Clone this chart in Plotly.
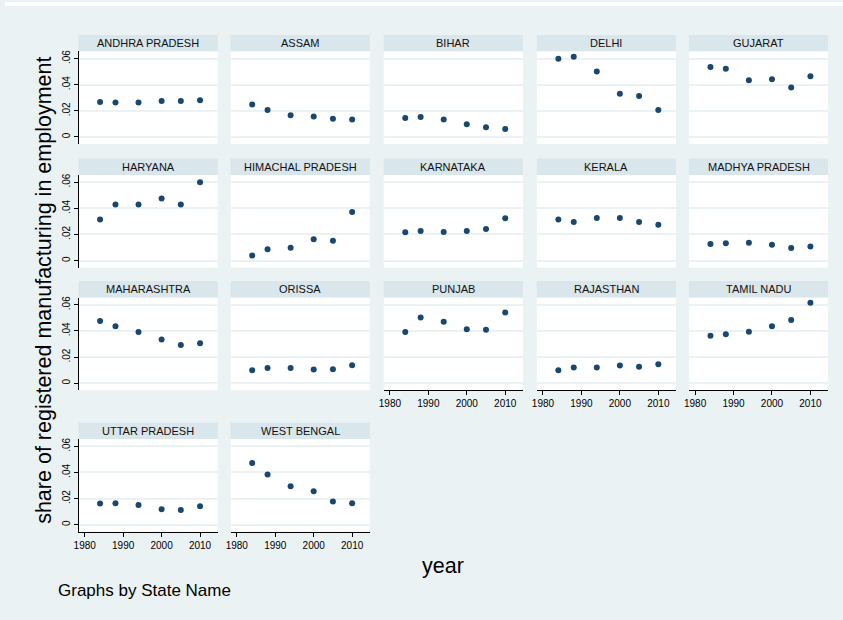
"""Small multiples: share of registered manufacturing in employment by state."""

import plotly.graph_objects as go

W, H = 843, 620

years = [1984, 1988, 1994, 2000, 2005, 2010]

states = [
    'ANDHRA PRADESH', 'ASSAM', 'BIHAR', 'DELHI', 'GUJARAT',
    'HARYANA', 'HIMACHAL PRADESH', 'KARNATAKA', 'KERALA', 'MADHYA PRADESH',
    'MAHARASHTRA', 'ORISSA', 'PUNJAB', 'RAJASTHAN', 'TAMIL NADU',
    'UTTAR PRADESH', 'WEST BENGAL',
]

andhra_pradesh = [0.0268, 0.0263, 0.0263, 0.0276, 0.0276, 0.0281]
assam = [0.0248, 0.0207, 0.0166, 0.0156, 0.0140, 0.0133]
bihar = [0.0146, 0.0153, 0.0133, 0.0097, 0.0074, 0.0061]
delhi = [0.0598, 0.0613, 0.0501, 0.0330, 0.0314, 0.0207]
gujarat = [0.0536, 0.0521, 0.0434, 0.0442, 0.0378, 0.0465]
haryana = [0.0315, 0.0429, 0.0429, 0.0475, 0.0429, 0.0600]
himachal_pradesh = [0.0038, 0.0086, 0.0099, 0.0163, 0.0152, 0.0371]
karnataka = [0.0216, 0.0226, 0.0219, 0.0226, 0.0241, 0.0323]
kerala = [0.0315, 0.0295, 0.0325, 0.0325, 0.0295, 0.0274]
madhya_pradesh = [0.0127, 0.0132, 0.0137, 0.0122, 0.0097, 0.0107]
maharashtra = [0.0475, 0.0435, 0.0391, 0.0335, 0.0292, 0.0305]
orissa = [0.0099, 0.0117, 0.0117, 0.0104, 0.0107, 0.0137]
punjab = [0.0391, 0.0503, 0.0470, 0.0412, 0.0409, 0.0541]
rajasthan = [0.0099, 0.0119, 0.0119, 0.0135, 0.0125, 0.0145]
tamil_nadu = [0.0363, 0.0374, 0.0394, 0.0435, 0.0483, 0.0615]
uttar_pradesh = [0.0163, 0.0165, 0.0150, 0.0119, 0.0112, 0.0142]
west_bengal = [0.0473, 0.0384, 0.0295, 0.0257, 0.0178, 0.0165]

shares = [
    andhra_pradesh, assam, bihar, delhi, gujarat,
    haryana, himachal_pradesh, karnataka, kerala, madhya_pradesh,
    maharashtra, orissa, punjab, rajasthan, tamil_nadu,
    uttar_pradesh, west_bengal,
]

x_ticks = [1980, 1990, 2000, 2010]
y_ticks = [0, 0.02, 0.04, 0.06]
y_tick_text = ['0', '.02', '.04', '.06']

BG = '#EAF2F3'
STRIP = '#D9E6EB'
NAVY = '#1A476F'
FONT = 'Liberation Sans, Arial, sans-serif'

# panel geometry in pixels
col_left = [74, 227, 381, 535, 688]
panel_w = 140
row_strip_top = [33, 157, 280, 422]
strip_h = 16.5
plot_h = 93

fig = go.Figure()
layout = {}
shapes = []
annotations = []

n = len(states)
for i, (state, vals) in enumerate(zip(states, shares)):
  r, c = divmod(i, 5)
  k = i + 1
  xa = 'x' if k == 1 else f'x{k}'
  ya = 'y' if k == 1 else f'y{k}'
  fig.add_trace(go.Scatter(
      x=years, y=vals, mode='markers', xaxis=xa, yaxis=ya,
      marker=dict(color=NAVY, size=6), showlegend=False))

  x0 = col_left[c]
  x1 = x0 + panel_w
  top = row_strip_top[r] + strip_h
  bottom = top + plot_h
  # bottom panel of each column carries the x axis
  is_bottom = (i + 5 >= n)
  is_left = (c == 0)

  layout['xaxis' if k == 1 else f'xaxis{k}'] = dict(
      domain=[x0 / W, x1 / W], anchor=ya, range=[1978.4, 2014.6],
      showgrid=False, zeroline=False,
      showline=is_bottom, linecolor='#000000', linewidth=1,
      ticks='outside' if is_bottom else '', ticklen=4, tickcolor='#000000',
      tickvals=x_ticks, showticklabels=is_bottom,
      tickfont=dict(family=FONT, size=10, color='#000000'))
  layout['yaxis' if k == 1 else f'yaxis{k}'] = dict(
      domain=[1 - bottom / H, 1 - top / H], anchor=xa,
      range=[-0.0054, 0.0655],
      showgrid=True, gridcolor=BG, gridwidth=1.5, zeroline=False,
      showline=is_left, linecolor='#000000', linewidth=1,
      ticks='outside' if is_left else '', ticklen=4, tickcolor='#000000',
      tickvals=y_ticks, ticktext=y_tick_text, showticklabels=is_left,
      tickangle=-90,
      tickfont=dict(family=FONT, size=10, color='#000000'))

  shapes.append(dict(
      type='rect', xref='paper', yref='paper', layer='below',
      x0=x0 / W, x1=x1 / W, y0=1 - top / H, y1=1 - row_strip_top[r] / H,
      fillcolor=STRIP, line=dict(width=0)))
  annotations.append(dict(
      text=state, xref='paper', yref='paper', showarrow=False,
      x=(x0 + x1) / 2 / W, y=1 - (row_strip_top[r] + strip_h / 2) / H,
      xanchor='center', yanchor='middle',
      font=dict(family=FONT, size=11, color='#111111')))

# thin white border at the top, as in the exported picture
shapes.append(dict(type='rect', xref='paper', yref='paper', layer='above',
                   x0=0, x1=1, y0=1 - 4 / H, y1=1,
                   fillcolor='white', line=dict(width=0)))

annotations.append(dict(
    text='share of registered manufacturing in employment',
    xref='paper', yref='paper', showarrow=False, textangle=-90,
    x=39 / W, y=1 - 289 / H, xanchor='center', yanchor='middle',
    font=dict(family=FONT, size=21.5, color='#000000')))
annotations.append(dict(
    text='year', xref='paper', yref='paper', showarrow=False,
    x=441 / W, y=1 - 566 / H, xanchor='center', yanchor='middle',
    font=dict(family=FONT, size=21.5, color='#000000')))
annotations.append(dict(
    text='Graphs by State Name', xref='paper', yref='paper', showarrow=False,
    x=51 / W, y=1 - 590 / H, xanchor='left', yanchor='middle',
    font=dict(family=FONT, size=17, color='#000000')))

fig.update_layout(
    width=W, height=H, autosize=False,
    margin=dict(l=0, r=0, t=0, b=0),
    paper_bgcolor=BG, plot_bgcolor='white',
    shapes=shapes, annotations=annotations,
    font=dict(family=FONT),
    **layout)

# drop the default page margin so the figure sits at the window's corner
fig.write_html('out.html',
               config={'displayModeBar': False},
               post_script="document.body.style.margin = '0px';")
